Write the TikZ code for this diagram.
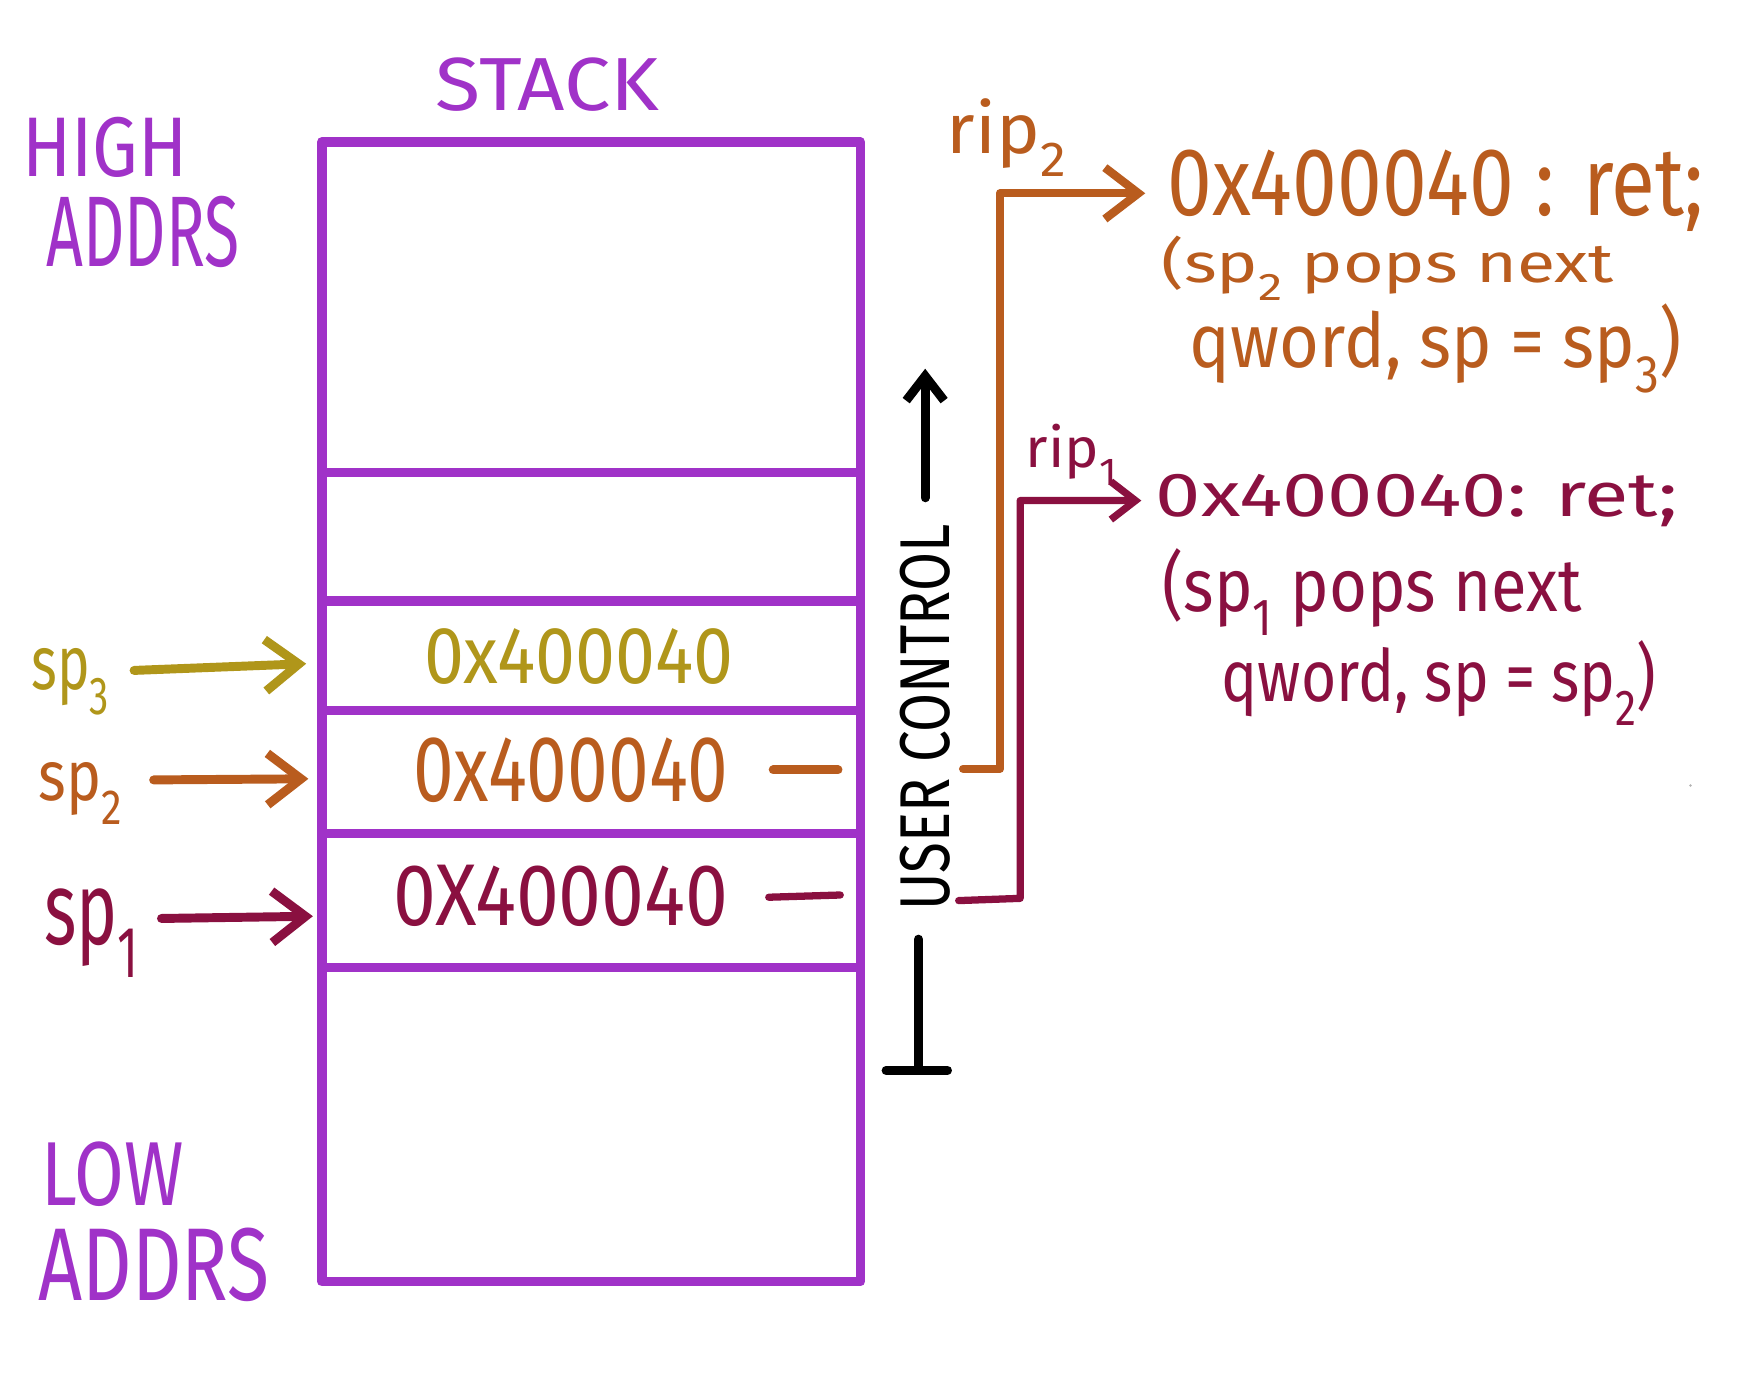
\documentclass[tikz,border=0pt]{standalone}
\usepackage{fontspec}
\setmainfont{Fira Sans}
\usetikzlibrary{arrows.meta}
\definecolor{stackpurple}{RGB}{160,50,200}
\definecolor{spyellow}{RGB}{176,150,26}
\definecolor{sporange}{RGB}{185,92,30}
\definecolor{spmaroon}{RGB}{138,16,64}
\newcommand{\handtxt}[3]{\resizebox*{#1pt}{#2pt}{\fontsize{60}{60}\selectfont #3}}
\begin{document}
\begin{tikzpicture}[x=1pt,y=-1pt,line cap=round,line join=round,
  every node/.style={inner sep=0pt,outer sep=0pt},
  cell/.style={draw=stackpurple,line width=8.5pt,minimum width=482pt},
  ink/.style={line width=8pt},
  bigtip/.style={-{Straight Barb[length=30pt,width=46pt]}},
  smalltip/.style={-{Straight Barb[length=22pt,width=34pt]}}]
\useasboundingbox (0,0) rectangle (1568,1242);

% stack cells
\node[cell,minimum height=296pt] (ctop) at (529,275) {};
\node[cell,minimum height=115pt] (c2) at (529,480.5) {};
\node[cell,minimum height=98pt] (c3) at (529,587) {};
\node[cell,minimum height=110pt] (c4) at (529,691) {};
\node[cell,minimum height=120pt] (c5) at (529,806) {};
\node[cell,minimum height=281pt] (cbot) at (529,1006.5) {};

% purple labels
\node[text=stackpurple] (stack) at (490,76) {\handtxt{200}{48}{STACK}};
\node[text=stackpurple] (high) at (94,132) {\handtxt{148}{54}{HIGH}};
\node[text=stackpurple] (highaddrs) at (128,208) {\handtxt{173}{64}{ADDRS}};
\node[text=stackpurple] (low) at (101,1051) {\handtxt{127}{58}{LOW}};
\node[text=stackpurple] (lowaddrs) at (138,1132) {\handtxt{207}{66}{ADDRS}};

% values in cells
\node[text=spyellow] (v3) at (518,588) {\handtxt{277}{50}{0x400040}};
\node[text=sporange] (v2) at (511,689) {\handtxt{282}{58}{0x400040}};
\node[text=spmaroon] (v1) at (502,802) {\handtxt{300}{55}{0X400040}};

% stack pointer labels
\node[text=spyellow] (sp3) at (63,610) {\handtxt{70}{60}{sp\textsubscript{3}}};
\node[text=sporange] (sp2) at (72,710) {\handtxt{75}{55}{sp\textsubscript{2}}};
\node[text=spmaroon] (sp1) at (82,835) {\handtxt{85}{80}{sp\textsubscript{1}}};

\draw[ink,spyellow,bigtip] ([xshift=22pt,yshift=10pt]sp3.east) -- ([xshift=-14pt,yshift=-7pt]c3.west);
\draw[ink,sporange,bigtip] ([xshift=28pt,yshift=12pt]sp2.east) -- ([xshift=-12pt,yshift=-6pt]c4.west);
\draw[ink,spmaroon,bigtip] ([xshift=20pt,yshift=13pt]sp1.east) -- ([xshift=-8pt,yshift=-14pt]c5.west);

% user control
\node[rotate=90] (uc) at (828,642) {\handtxt{345}{45}{USER CONTROL}};
\coordinate (uctop) at (828,330);
\coordinate (ucbot) at (822,958);
\draw[ink,smalltip] ([yshift=24pt]uc.east) -- (uctop);
\draw[ink] ([xshift=-6pt,yshift=-26pt]uc.west) -- (ucbot);
\draw[ink] ([xshift=-29pt]ucbot) -- ([xshift=26pt]ucbot);

% right-hand texts
\node[text=sporange] (rip2) at (901,123) {\handtxt{107}{70}{rip\textsubscript{2}}};
\node[text=sporange] (ret2a) at (1285,171) {\handtxt{480}{73}{0x400040 : ret;}};
\node[text=sporange] (ret2b) at (1242,240) {\handtxt{405}{58}{(sp\textsubscript{2} pops next}};
\node[text=sporange] (ret2c) at (1285,312) {\handtxt{440}{80}{qword, sp = sp\textsubscript{3})}};

\node[text=spmaroon] (rip1) at (959,407) {\handtxt{82}{55}{rip\textsubscript{1}}};
\node[text=spmaroon] (ret1a) at (1268,448) {\handtxt{467}{47}{0x400040: ret;}};
\node[text=spmaroon] (ret1b) at (1228,530) {\handtxt{375}{78}{(sp\textsubscript{1} pops next}};
\node[text=spmaroon] (ret1c) at (1288,611) {\handtxt{389}{76}{qword, sp = sp\textsubscript{2})}};

% connectors
\coordinate (o2start) at (862,688);
\coordinate (m1start) at (858,806);
\draw[ink,sporange] (692,689) -- (750,689);
\draw[line width=7.5pt,sporange,bigtip] (o2start) -- (895,688) |- ([xshift=-20pt,yshift=-2pt]ret2a.west);
\draw[line width=6.5pt,spmaroon] (688,803) -- (752,801);
\draw[line width=6.5pt,spmaroon,smalltip] (m1start) -- (913,804) |- ([xshift=-13pt]ret1a.west);

% stray speck
\fill[gray!60] (1513,703) circle (1.2pt);
\end{tikzpicture}
\end{document}
